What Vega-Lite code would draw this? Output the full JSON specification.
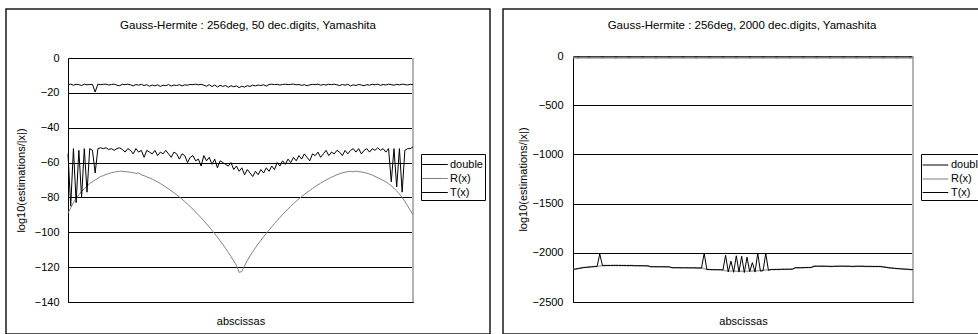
{
  "$schema": "https://vega.github.io/schema/vega-lite/v6.json",
  "background": "white",
  "padding": {"left": 5, "top": 8, "right": 0, "bottom": 0},
  "spacing": 11,
  "resolve": {"scale": {"color": "independent", "strokeWidth": "independent"}, "legend": {"color": "independent", "strokeWidth": "independent"}},
  "config": {
    "font": "Liberation Sans",
    "view": {"stroke": "#1a1a1a", "strokeWidth": 1.5},
    "axis": {"labelFontSize": 11, "titleFontSize": 11, "titleFontWeight": "normal", "labelColor": "black", "titleColor": "black", "domainColor": "black", "gridColor": "black", "gridOpacity": 1},
    "legend": {"labelFontSize": 11, "labelColor": "black"},
    "title": {"fontSize": 11.5, "fontWeight": "normal", "color": "black"}
  },
  "hconcat": [
    {
      "width": 484,
      "height": 325,
      "title": {"text": "Gauss-Hermite : 256deg, 50 dec.digits, Yamashita", "offset": -22, "frame": "group", "anchor": "middle"},
      "data": {"values": [
        {"i":1,"d":-15.2,"r":-89,"t":-55},{"i":2,"d":-15.0,"r":-86,"t":-85},{"i":3,"d":-15.6,"r":-83,"t":-52},{"i":4,"d":-15.1,"r":-80.5,"t":-83},
        {"i":5,"d":-15.3,"r":-78.5,"t":-53},{"i":6,"d":-15.8,"r":-76.5,"t":-80},{"i":7,"d":-15.0,"r":-75,"t":-52},{"i":8,"d":-15.4,"r":-73.5,"t":-77},
        {"i":9,"d":-15.2,"r":-72,"t":-52},{"i":10,"d":-15.1,"r":-71,"t":-53},{"i":11,"d":-19.5,"r":-70,"t":-66},{"i":12,"d":-15.0,"r":-69,"t":-52},
        {"i":13,"d":-15.3,"r":-68,"t":-51.5},{"i":14,"d":-15.1,"r":-67.5,"t":-52},{"i":15,"d":-15.0,"r":-66.8,"t":-51.5},{"i":16,"d":-15.5,"r":-66.3,"t":-52.5},
        {"i":17,"d":-15.2,"r":-65.8,"t":-52},{"i":18,"d":-15.0,"r":-65.5,"t":-53},{"i":19,"d":-15.6,"r":-65.2,"t":-52},{"i":20,"d":-15.9,"r":-65,"t":-51.5},
        {"i":21,"d":-15.1,"r":-65,"t":-52.5},{"i":22,"d":-15.3,"r":-65.2,"t":-54},{"i":23,"d":-15.0,"r":-65.3,"t":-52},{"i":24,"d":-15.4,"r":-65.6,"t":-53},
        {"i":25,"d":-16.0,"r":-65.8,"t":-55},{"i":26,"d":-15.2,"r":-66.2,"t":-52},{"i":27,"d":-15.6,"r":-66,"t":-54},{"i":28,"d":-15.1,"r":-67,"t":-53},
        {"i":29,"d":-15.8,"r":-67.5,"t":-57},{"i":30,"d":-15.3,"r":-68.2,"t":-53},{"i":31,"d":-16.2,"r":-68.8,"t":-54},{"i":32,"d":-15.5,"r":-69.5,"t":-55},
        {"i":33,"d":-16.0,"r":-70.3,"t":-53},{"i":34,"d":-15.4,"r":-71.1,"t":-56},{"i":35,"d":-16.3,"r":-72,"t":-54},{"i":36,"d":-15.6,"r":-73,"t":-55},
        {"i":37,"d":-15.9,"r":-74,"t":-53},{"i":38,"d":-15.2,"r":-75.1,"t":-55},{"i":39,"d":-16.1,"r":-76.2,"t":-57},{"i":40,"d":-15.5,"r":-77.3,"t":-54},
        {"i":41,"d":-15.8,"r":-78.5,"t":-55},{"i":42,"d":-15.3,"r":-79.7,"t":-58},{"i":43,"d":-16.0,"r":-81,"t":-55},{"i":44,"d":-15.4,"r":-82.4,"t":-56},
        {"i":45,"d":-15.6,"r":-83.8,"t":-60},{"i":46,"d":-15.2,"r":-85.3,"t":-57},{"i":47,"d":-15.3,"r":-86.8,"t":-56},{"i":48,"d":-15.0,"r":-88.4,"t":-59},
        {"i":49,"d":-15.4,"r":-90,"t":-58},{"i":50,"d":-15.1,"r":-91.7,"t":-62},{"i":51,"d":-15.6,"r":-93.4,"t":-56},{"i":52,"d":-16.2,"r":-95.2,"t":-59},
        {"i":53,"d":-15.3,"r":-97,"t":-57},{"i":54,"d":-16.4,"r":-98.9,"t":-61},{"i":55,"d":-15.5,"r":-100.8,"t":-58},{"i":56,"d":-16.6,"r":-102.8,"t":-63},
        {"i":57,"d":-15.7,"r":-104.9,"t":-59},{"i":58,"d":-16.3,"r":-107,"t":-60},{"i":59,"d":-15.8,"r":-109.2,"t":-61},{"i":60,"d":-16.8,"r":-111.5,"t":-62},
        {"i":61,"d":-15.9,"r":-113.9,"t":-60},{"i":62,"d":-16.5,"r":-116.4,"t":-64},{"i":63,"d":-16.0,"r":-119,"t":-62},{"i":64,"d":-17.0,"r":-123,"t":-65},
        {"i":65,"d":-16.2,"r":-122.5,"t":-63},{"i":66,"d":-16.7,"r":-119.2,"t":-67},{"i":67,"d":-15.9,"r":-116.2,"t":-64},{"i":68,"d":-16.3,"r":-113.6,"t":-66},
        {"i":69,"d":-15.6,"r":-111.2,"t":-68},{"i":70,"d":-16.0,"r":-108.9,"t":-65},{"i":71,"d":-15.5,"r":-106.7,"t":-67},{"i":72,"d":-15.8,"r":-104.6,"t":-64},
        {"i":73,"d":-15.4,"r":-102.6,"t":-66},{"i":74,"d":-16.1,"r":-100.6,"t":-63},{"i":75,"d":-15.2,"r":-98.7,"t":-65},{"i":76,"d":-15.0,"r":-96.8,"t":-62},
        {"i":77,"d":-15.3,"r":-95,"t":-64},{"i":78,"d":-15.1,"r":-93.2,"t":-60},{"i":79,"d":-15.5,"r":-91.5,"t":-62},{"i":80,"d":-15.2,"r":-89.8,"t":-59},
        {"i":81,"d":-15.0,"r":-88.2,"t":-61},{"i":82,"d":-15.3,"r":-86.6,"t":-58},{"i":83,"d":-15.1,"r":-85.1,"t":-60},{"i":84,"d":-15.0,"r":-83.6,"t":-57},
        {"i":85,"d":-15.4,"r":-82.2,"t":-59},{"i":86,"d":-15.2,"r":-80.8,"t":-56},{"i":87,"d":-15.7,"r":-79.5,"t":-58},{"i":88,"d":-15.3,"r":-78.3,"t":-55},
        {"i":89,"d":-15.9,"r":-77.1,"t":-57},{"i":90,"d":-15.4,"r":-76,"t":-59},{"i":91,"d":-15.1,"r":-74.9,"t":-55},{"i":92,"d":-15.3,"r":-73.8,"t":-56},
        {"i":93,"d":-15.0,"r":-72.8,"t":-54},{"i":94,"d":-15.6,"r":-71.8,"t":-57},{"i":95,"d":-15.2,"r":-70.9,"t":-55},{"i":96,"d":-15.5,"r":-70,"t":-53},
        {"i":97,"d":-15.1,"r":-69.2,"t":-56},{"i":98,"d":-15.3,"r":-68.4,"t":-54},{"i":99,"d":-15.0,"r":-67.7,"t":-55},{"i":100,"d":-15.4,"r":-67,"t":-53},
        {"i":101,"d":-15.8,"r":-66.4,"t":-54},{"i":102,"d":-15.2,"r":-65.9,"t":-56},{"i":103,"d":-15.6,"r":-65.5,"t":-53},{"i":104,"d":-15.1,"r":-65.2,"t":-55},
        {"i":105,"d":-16.0,"r":-65,"t":-53},{"i":106,"d":-15.4,"r":-65.3,"t":-52},{"i":107,"d":-15.8,"r":-64.9,"t":-54},{"i":108,"d":-15.2,"r":-65.2,"t":-52},
        {"i":109,"d":-15.5,"r":-65.4,"t":-55},{"i":110,"d":-15.9,"r":-65.7,"t":-53},{"i":111,"d":-15.3,"r":-66.1,"t":-52},{"i":112,"d":-15.6,"r":-66.6,"t":-54},
        {"i":113,"d":-15.1,"r":-67.2,"t":-52},{"i":114,"d":-15.4,"r":-67.9,"t":-53},{"i":115,"d":-15.0,"r":-68.6,"t":-51.5},{"i":116,"d":-15.7,"r":-69.4,"t":-53},
        {"i":117,"d":-15.2,"r":-70.2,"t":-52},{"i":118,"d":-15.5,"r":-71.1,"t":-54},{"i":119,"d":-15.0,"r":-72.1,"t":-52},{"i":120,"d":-15.3,"r":-73.3,"t":-71},
        {"i":121,"d":-15.6,"r":-74.7,"t":-52},{"i":122,"d":-15.1,"r":-76.3,"t":-74},{"i":123,"d":-15.4,"r":-78,"t":-52},{"i":124,"d":-15.0,"r":-80,"t":-77},
        {"i":125,"d":-15.2,"r":-82.3,"t":-53},{"i":126,"d":-15.5,"r":-84.8,"t":-52},{"i":127,"d":-15.1,"r":-87.4,"t":-52},{"i":128,"d":-15.3,"r":-90,"t":-51}
      ]},
      "layer": [
        {
          "data": {"values": [{"k": 1}]},
          "mark": {"type": "rule", "color": "#b4b4b4", "strokeWidth": 2},
          "encoding": {
            "x": {"datum": 128, "type": "quantitative"},
            "y": {"datum": 0, "type": "quantitative"},
            "y2": {"datum": -140}
          }
        },
        {
          "transform": [{"fold": ["d", "r", "t"], "as": ["s", "v"]}],
          "mark": {"type": "line", "strokeJoin": "round"},
          "encoding": {
            "x": {"field": "i", "type": "quantitative",
              "scale": {"domain": [1, 128], "range": [62, 407], "nice": false, "zero": false},
              "axis": {"title": "abscissas", "labels": false, "ticks": false, "grid": false, "offset": -32, "titlePadding": 13}},
            "y": {"field": "v", "type": "quantitative",
              "scale": {"domain": [-140, 0], "range": [293, 49], "nice": false, "zero": false},
              "axis": {"title": "log10(estimations/|x|)", "values": [-140, -120, -100, -80, -60, -40, -20, 0], "format": "d", "ticks": false, "grid": true, "labelPadding": 9, "offset": -62, "titlePadding": 8}},
            "color": {"field": "s", "type": "nominal",
              "scale": {"domain": ["d", "r", "t"], "range": ["#000000", "#808080", "#000000"]},
              "legend": {"title": null, "orient": "none", "legendX": 415, "legendY": 145, "strokeColor": "black", "fillColor": "white", "padding": 2, "rowPadding": 0, "symbolType": "M-1.6,0H1.6", "symbolSize": 256, "symbolOffset": 3.45, "labelOffset": 6.5, "labelExpr": "datum.label == 'd' ? 'double' : datum.label == 'r' ? 'R(x)' : 'T(x)'"}},
            "strokeWidth": {"field": "s", "type": "nominal",
              "scale": {"domain": ["d", "r", "t"], "range": [1, 1, 2.2]},
              "legend": {"title": null, "orient": "none", "legendX": 415, "legendY": 145, "strokeColor": "black", "fillColor": "white", "padding": 2, "rowPadding": 0, "symbolType": "M-1.6,0H1.6", "symbolSize": 256, "symbolOffset": 3.45, "labelOffset": 6.5, "labelExpr": "datum.label == 'd' ? 'double' : datum.label == 'r' ? 'R(x)' : 'T(x)'"}}
          }
        }
      ]
    },
    {
      "width": 478,
      "height": 325,
      "title": {"text": "Gauss-Hermite : 256deg, 2000 dec.digits, Yamashita", "offset": -22, "frame": "group", "anchor": "middle"},
      "data": {"values": [
        {"i":1,"d":-16,"r":-2168,"t":-2168},{"i":2,"d":-15,"r":-2165,"t":-2165},{"i":3,"d":-17,"r":-2160,"t":-2160},{"i":4,"d":-16,"r":-2155,"t":-2155},
        {"i":5,"d":-16,"r":-2150,"t":-2150},{"i":6,"d":-15,"r":-2148,"t":-2148},{"i":7,"d":-17,"r":-2145,"t":-2145},{"i":8,"d":-16,"r":-2142,"t":-2142},
        {"i":9,"d":-16,"r":-2140,"t":-2140},{"i":10,"d":-15,"r":-2138,"t":-2138},{"i":11,"d":-16,"r":-2135,"t":-2012},{"i":12,"d":-17,"r":-2130,"t":-2130},
        {"i":13,"d":-16,"r":-2130,"t":-2130},{"i":14,"d":-15,"r":-2129,"t":-2129},{"i":15,"d":-16,"r":-2129,"t":-2129},{"i":16,"d":-16,"r":-2128,"t":-2128},
        {"i":17,"d":-17,"r":-2128,"t":-2128},{"i":18,"d":-16,"r":-2128,"t":-2128},{"i":19,"d":-15,"r":-2129,"t":-2129},{"i":20,"d":-16,"r":-2129,"t":-2129},
        {"i":21,"d":-16,"r":-2130,"t":-2130},{"i":22,"d":-17,"r":-2130,"t":-2130},{"i":23,"d":-16,"r":-2130,"t":-2130},{"i":24,"d":-15,"r":-2131,"t":-2131},
        {"i":25,"d":-16,"r":-2131,"t":-2131},{"i":26,"d":-16,"r":-2131,"t":-2131},{"i":27,"d":-17,"r":-2132,"t":-2132},{"i":28,"d":-16,"r":-2132,"t":-2132},
        {"i":29,"d":-15,"r":-2133,"t":-2133},{"i":30,"d":-16,"r":-2141,"t":-2141},{"i":31,"d":-16,"r":-2141,"t":-2141},{"i":32,"d":-17,"r":-2141,"t":-2141},
        {"i":33,"d":-16,"r":-2142,"t":-2142},{"i":34,"d":-15,"r":-2142,"t":-2142},{"i":35,"d":-16,"r":-2142,"t":-2142},{"i":36,"d":-16,"r":-2143,"t":-2143},
        {"i":37,"d":-17,"r":-2143,"t":-2143},{"i":38,"d":-16,"r":-2151,"t":-2151},{"i":39,"d":-15,"r":-2151,"t":-2151},{"i":40,"d":-16,"r":-2151,"t":-2151},
        {"i":41,"d":-16,"r":-2152,"t":-2152},{"i":42,"d":-17,"r":-2152,"t":-2152},{"i":43,"d":-16,"r":-2152,"t":-2152},{"i":44,"d":-15,"r":-2153,"t":-2153},
        {"i":45,"d":-16,"r":-2153,"t":-2153},{"i":46,"d":-16,"r":-2153,"t":-2153},{"i":47,"d":-17,"r":-2154,"t":-2154},{"i":48,"d":-16,"r":-2154,"t":-2154},
        {"i":49,"d":-15,"r":-2155,"t":-2155},{"i":50,"d":-16,"r":-2160,"t":-2005},{"i":51,"d":-16,"r":-2170,"t":-2170},{"i":52,"d":-17,"r":-2170,"t":-2170},
        {"i":53,"d":-16,"r":-2171,"t":-2171},{"i":54,"d":-15,"r":-2171,"t":-2171},{"i":55,"d":-16,"r":-2172,"t":-2172},{"i":56,"d":-16,"r":-2172,"t":-2172},
        {"i":57,"d":-17,"r":-2175,"t":-2175},{"i":58,"d":-16,"r":-2182,"t":-2025},{"i":59,"d":-15,"r":-2184,"t":-2195},{"i":60,"d":-16,"r":-2185,"t":-2085},
        {"i":61,"d":-16,"r":-2186,"t":-2198},{"i":62,"d":-17,"r":-2187,"t":-2030},{"i":63,"d":-16,"r":-2188,"t":-2196},{"i":64,"d":-15,"r":-2188,"t":-2035},
        {"i":65,"d":-16,"r":-2188,"t":-2200},{"i":66,"d":-16,"r":-2187,"t":-2045},{"i":67,"d":-17,"r":-2186,"t":-2192},{"i":68,"d":-16,"r":-2185,"t":-2100},
        {"i":69,"d":-15,"r":-2184,"t":-2196},{"i":70,"d":-16,"r":-2182,"t":-2005},{"i":71,"d":-16,"r":-2180,"t":-2186},{"i":72,"d":-17,"r":-2178,"t":-2182},
        {"i":73,"d":-16,"r":-2176,"t":-2005},{"i":74,"d":-15,"r":-2174,"t":-2178},{"i":75,"d":-16,"r":-2170,"t":-2170},{"i":76,"d":-16,"r":-2170,"t":-2170},
        {"i":77,"d":-17,"r":-2169,"t":-2169},{"i":78,"d":-16,"r":-2169,"t":-2169},{"i":79,"d":-15,"r":-2168,"t":-2168},{"i":80,"d":-16,"r":-2168,"t":-2168},
        {"i":81,"d":-16,"r":-2167,"t":-2167},{"i":82,"d":-17,"r":-2167,"t":-2167},{"i":83,"d":-16,"r":-2166,"t":-2166},{"i":84,"d":-15,"r":-2152,"t":-2152},
        {"i":85,"d":-16,"r":-2152,"t":-2152},{"i":86,"d":-16,"r":-2151,"t":-2151},{"i":87,"d":-17,"r":-2151,"t":-2151},{"i":88,"d":-16,"r":-2150,"t":-2150},
        {"i":89,"d":-15,"r":-2150,"t":-2150},{"i":90,"d":-16,"r":-2149,"t":-2149},{"i":91,"d":-16,"r":-2137,"t":-2137},{"i":92,"d":-17,"r":-2137,"t":-2137},
        {"i":93,"d":-16,"r":-2136,"t":-2136},{"i":94,"d":-15,"r":-2136,"t":-2136},{"i":95,"d":-16,"r":-2137,"t":-2137},{"i":96,"d":-16,"r":-2137,"t":-2137},
        {"i":97,"d":-17,"r":-2138,"t":-2138},{"i":98,"d":-16,"r":-2138,"t":-2138},{"i":99,"d":-15,"r":-2137,"t":-2137},{"i":100,"d":-16,"r":-2137,"t":-2137},
        {"i":101,"d":-16,"r":-2136,"t":-2136},{"i":102,"d":-17,"r":-2136,"t":-2136},{"i":103,"d":-16,"r":-2137,"t":-2137},{"i":104,"d":-15,"r":-2137,"t":-2137},
        {"i":105,"d":-16,"r":-2138,"t":-2138},{"i":106,"d":-16,"r":-2138,"t":-2138},{"i":107,"d":-17,"r":-2137,"t":-2137},{"i":108,"d":-16,"r":-2137,"t":-2137},
        {"i":109,"d":-15,"r":-2137,"t":-2137},{"i":110,"d":-16,"r":-2138,"t":-2138},{"i":111,"d":-16,"r":-2138,"t":-2138},{"i":112,"d":-17,"r":-2138,"t":-2138},
        {"i":113,"d":-16,"r":-2139,"t":-2139},{"i":114,"d":-15,"r":-2139,"t":-2139},{"i":115,"d":-16,"r":-2139,"t":-2139},{"i":116,"d":-16,"r":-2140,"t":-2140},
        {"i":117,"d":-17,"r":-2144,"t":-2144},{"i":118,"d":-16,"r":-2148,"t":-2148},{"i":119,"d":-15,"r":-2152,"t":-2152},{"i":120,"d":-16,"r":-2155,"t":-2155},
        {"i":121,"d":-16,"r":-2158,"t":-2158},{"i":122,"d":-17,"r":-2160,"t":-2160},{"i":123,"d":-16,"r":-2162,"t":-2162},{"i":124,"d":-15,"r":-2164,"t":-2164},
        {"i":125,"d":-16,"r":-2166,"t":-2166},{"i":126,"d":-16,"r":-2168,"t":-2168},{"i":127,"d":-17,"r":-2170,"t":-2170},{"i":128,"d":-16,"r":-2172,"t":-2172}
      ]},
      "layer": [
        {
          "data": {"values": [{"k": 1}]},
          "mark": {"type": "rule", "color": "#b4b4b4", "strokeWidth": 2},
          "encoding": {
            "x": {"datum": 128, "type": "quantitative"},
            "y": {"datum": 0, "type": "quantitative"},
            "y2": {"datum": -2500}
          }
        },
        {
          "transform": [{"fold": ["d", "r", "t"], "as": ["s", "v"]}],
          "mark": {"type": "line", "strokeJoin": "round"},
          "encoding": {
            "x": {"field": "i", "type": "quantitative",
              "scale": {"domain": [1, 128], "range": [70, 410], "nice": false, "zero": false},
              "axis": {"title": "abscissas", "labels": false, "ticks": false, "grid": false, "offset": -32, "titlePadding": 13}},
            "y": {"field": "v", "type": "quantitative",
              "scale": {"domain": [-2500, 0], "range": [293, 47], "nice": false, "zero": false},
              "axis": {"title": "log10(estimations/|x|)", "values": [-2500, -2000, -1500, -1000, -500, 0], "format": "d", "ticks": false, "grid": true, "labelPadding": 10, "offset": -70, "titlePadding": 4}},
            "color": {"field": "s", "type": "nominal",
              "scale": {"domain": ["d", "r", "t"], "range": ["#808080", "#a8a8a8", "#000000"]},
              "legend": {"title": null, "orient": "none", "legendX": 418, "legendY": 145, "strokeColor": "black", "fillColor": "white", "padding": 2, "rowPadding": 0, "symbolType": "M-1.6,0H1.6", "symbolSize": 256, "symbolOffset": 3.45, "labelOffset": 6.5, "labelExpr": "datum.label == 'd' ? 'double' : datum.label == 'r' ? 'R(x)' : 'T(x)'"}},
            "strokeWidth": {"field": "s", "type": "nominal",
              "scale": {"domain": ["d", "r", "t"], "range": [2, 1, 2]},
              "legend": {"title": null, "orient": "none", "legendX": 418, "legendY": 145, "strokeColor": "black", "fillColor": "white", "padding": 2, "rowPadding": 0, "symbolType": "M-1.6,0H1.6", "symbolSize": 256, "symbolOffset": 3.45, "labelOffset": 6.5, "labelExpr": "datum.label == 'd' ? 'double' : datum.label == 'r' ? 'R(x)' : 'T(x)'"}}
          }
        }
      ]
    }
  ]
}
